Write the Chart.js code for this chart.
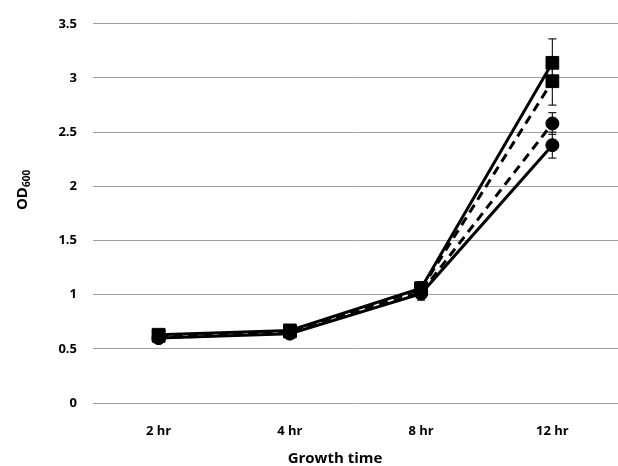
<!DOCTYPE html>
<html><head><meta charset="utf-8">
<script src="https://cdn.jsdelivr.net/npm/chart.js@4"></script>
<style>html,body{margin:0;padding:0;background:#fff}#wrap{width:618px;height:466px}</style>
</head><body><div id="wrap"><canvas id="c" width="618" height="466"></canvas></div>
<script>
const categories = ["2 hr", "4 hr", "8 hr", "12 hr"];
const solidSquare = [0.63, 0.67, 1.06, 3.14];
const dashedSquare = [0.62, 0.66, 1.05, 2.97];
const dashedCircle = [0.60, 0.65, 1.02, 2.58];
const solidCircle = [0.60, 0.64, 1.01, 2.38];
const errSolidSquare = [0.02, 0.02, 0.06, 0.22];
const errDashedSquare = [0.02, 0.02, 0.05, 0.22];
const errDashedCircle = [0.02, 0.02, 0.05, 0.10];
const errSolidCircle = [0.02, 0.02, 0.06, 0.12];
const yTitle = "OD", ySub = "600", xTitle = "Growth time";
const FONT = "'Open Sans', 'Liberation Sans', sans-serif";

const errorBars = {
  id: 'errorBars',
  beforeDatasetsDraw(chart) {
    const ctx = chart.ctx, ys = chart.scales.y;
    ctx.save();
    ctx.strokeStyle = '#222'; ctx.lineWidth = 1.2;
    chart.data.datasets.forEach((ds, i) => {
      const meta = chart.getDatasetMeta(i);
      meta.data.forEach((pt, j) => {
        const v = ds.data[j], e = ds.err[j];
        const y1 = ys.getPixelForValue(v + e), y2 = ys.getPixelForValue(v - e);
        const x = pt.x;
        ctx.beginPath();
        ctx.moveTo(x, y1); ctx.lineTo(x, y2);
        ctx.moveTo(x - 4, y1); ctx.lineTo(x + 4, y1);
        ctx.moveTo(x - 4, y2); ctx.lineTo(x + 4, y2);
        ctx.stroke();
      });
    });
    ctx.restore();
  }
};
const titles = {
  id: 'titles',
  afterDraw(chart) {
    const ctx = chart.ctx;
    ctx.save();
    ctx.fillStyle = '#000';
    ctx.font = "bold 15px " + FONT;
    ctx.textAlign = 'center'; ctx.textBaseline = 'middle';
    ctx.fillText(xTitle, 335, 459);
    ctx.translate(21, 190);
    ctx.rotate(-Math.PI / 2);
    ctx.textAlign = 'left'; ctx.textBaseline = 'alphabetic';
    const w1 = ctx.measureText(yTitle).width;
    ctx.font = "bold 10px " + FONT;
    const w2 = ctx.measureText(ySub).width;
    const start = -(w1 + w2) / 2;
    ctx.font = "bold 15px " + FONT;
    ctx.fillText(yTitle, start, 6);
    ctx.font = "bold 10px " + FONT;
    ctx.fillText(ySub, start + w1, 9);
    ctx.restore();
  }
};

function mk(label, data, err, style, dashed) {
  return {
    label, data, err,
    borderColor: '#000', backgroundColor: '#000',
    borderWidth: 3, borderDash: dashed ? [9, 6] : [],
    pointStyle: style, pointRadius: style === 'rect' ? 9 : 6.5,
    pointBorderColor: '#000', pointBackgroundColor: '#000', pointBorderWidth: 1,
    tension: 0, fill: false
  };
}

new Chart(document.getElementById('c'), {
  type: 'line',
  data: {
    labels: categories,
    datasets: [
      mk('A', solidSquare, errSolidSquare, 'rect', false),
      mk('B', dashedSquare, errDashedSquare, 'rect', true),
      mk('C', dashedCircle, errDashedCircle, 'circle', true),
      mk('D', solidCircle, errSolidCircle, 'circle', false)
    ]
  },
  options: {
    responsive: false, animation: false,
    layout: { autoPadding: false, padding: { top: 22, left: 0, right: -11, bottom: 0 } },
    plugins: { legend: { display: false }, tooltip: { enabled: false } },
    scales: {
      x: {
        offset: true,
        grid: { display: false, drawTicks: false },
        border: { display: false },
        ticks: { color: '#000', font: { family: FONT, weight: 'bold', size: 13 }, padding: 20, maxRotation: 0 },
        afterFit(s) { s.height = 63; s.paddingLeft = 0; s.paddingRight = 0; }
      },
      y: {
        min: 0, max: 3.5,
        grid: { color: '#a0a0a0', lineWidth: 1, drawTicks: false },
        border: { display: false },
        ticks: { stepSize: 0.5, color: '#000', font: { family: FONT, weight: 'bold', size: 13 }, padding: 16,
          callback: v => String(Math.round(v * 10) / 10) },
        afterFit(s) { s.width = 93; }
      }
    }
  },
  plugins: [errorBars, titles]
});
</script></body></html>
